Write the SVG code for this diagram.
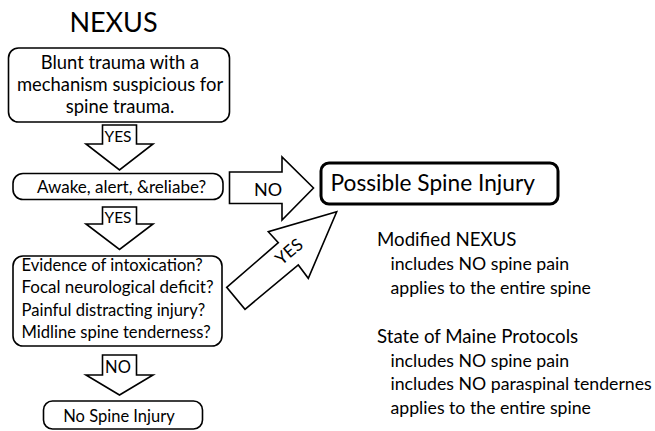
<svg xmlns="http://www.w3.org/2000/svg" width="655" height="431" viewBox="0 0 655 431">
<style>
text{font-family:Lato,"Open Sans",sans-serif;fill:#000}
.box{fill:#fff;stroke:#000;stroke-width:1.6}
.arrow{fill:#fff;stroke:#000;stroke-width:1.6;stroke-linejoin:miter}
.t{font-size:17px}
.q{font-size:16.6px}
.m{text-anchor:middle}
.lbl{font-size:15.5px;text-anchor:middle}
.side{font-size:18.7px}
.sub{font-size:17.7px}
</style>
<rect width="655" height="431" fill="#fff"/>
<text id="title" x="113.5" y="31.5" class="m" style="font-size:27px">NEXUS</text>
<g id="connectors">
<polygon class="arrow" points="102.5,125 136.5,125 136.5,144 153,144 119.5,170 86,144 102.5,144"/>
<text x="118" y="141.5" class="lbl">YES</text>
<polygon class="arrow" points="102.5,207 136.5,207 136.5,224 153,224 119.5,249.5 86,224 102.5,224"/>
<text x="118" y="222.5" class="lbl">YES</text>
<polygon class="arrow" points="102.5,355 136.5,355 136.5,375 153,375 119.5,395 86,375 102.5,375"/>
<text x="118" y="373" class="lbl" style="font-size:16.5px">NO</text>
<polygon class="arrow" points="229.5,172 282,172 282,157 313.5,188 282,220 282,203.5 229.5,203.5"/>
<text x="268" y="196" class="m" style="font-size:18px">NO</text>
<polygon class="arrow" points="226.7,287.3 278.3,242.7 268.3,231.7 336.7,211.7 308.3,278.3 298.3,265 245,309.3"/>
<text x="0" y="0" class="m" style="font-size:17px" transform="translate(289,251.5) rotate(-40) translate(0,6)">YES</text>
</g>
<g id="n1">
<rect class="box" x="8.5" y="48" width="221" height="74" rx="10"/>
<text x="120" y="68.5" class="m" style="font-size:18.4px">Blunt trauma with a</text>
<text x="120" y="91" class="m" style="font-size:18.4px">mechanism suspicious for</text>
<text x="120" y="113" class="m" style="font-size:18.4px">spine trauma.</text>
</g>
<g id="n2">
<rect class="box" x="13" y="173.5" width="210" height="26" rx="10"/>
<text x="121.5" y="192.5" class="t m">Awake, alert, &amp;reliabe?</text>
</g>
<g id="n3">
<rect class="box" x="13" y="256" width="209" height="90" rx="10"/>
<text x="21.5" y="270.5" class="q">Evidence of intoxication?</text>
<text x="21.5" y="293" class="q" textLength="192" lengthAdjust="spacingAndGlyphs">Focal neurological deficit?</text>
<text x="21.5" y="315.5" class="q">Painful distracting injury?</text>
<text x="21.5" y="338" class="q">Midline spine tenderness?</text>
</g>
<g id="n4">
<rect class="box" x="43.5" y="401" width="159" height="28" rx="9"/>
<text x="119" y="421.5" class="m" style="font-size:16.5px">No Spine Injury</text>
</g>
<g id="n5">
<rect x="321" y="163" width="237" height="41" rx="8" fill="#fff" stroke="#000" stroke-width="3"/>
<text x="330.5" y="191" style="font-size:22.7px">Possible Spine Injury</text>
</g>
<g id="notes">
<text x="377" y="246" class="side">Modified NEXUS</text>
<text x="390.5" y="270" class="sub">includes NO spine pain</text>
<text x="390.5" y="293.5" class="sub">applies to the entire spine</text>
<text x="377" y="343" class="side">State of Maine Protocols</text>
<text x="390.5" y="366.5" class="sub">includes NO spine pain</text>
<text x="390.5" y="390" class="sub">includes NO paraspinal tendernes</text>
<text x="390.5" y="413.5" class="sub">applies to the entire spine</text>
</g>
</svg>
